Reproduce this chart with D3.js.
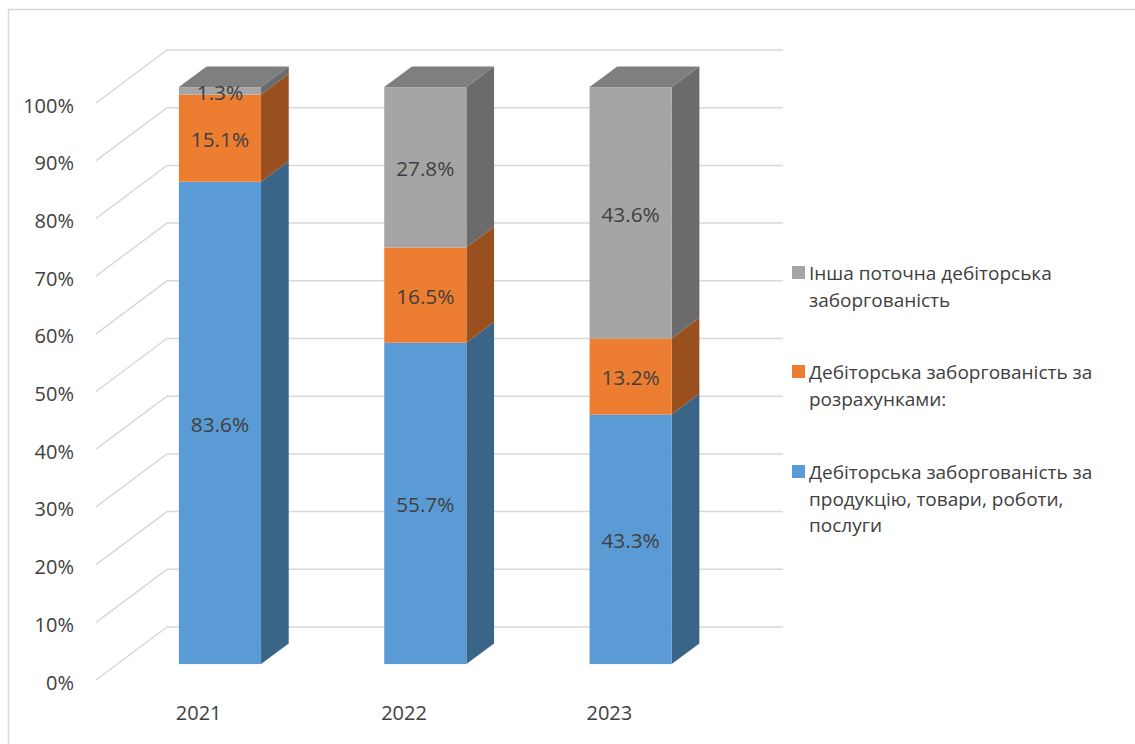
<!DOCTYPE html>
<html>
<head>
<meta charset="utf-8">
<script src="https://cdn.jsdelivr.net/npm/d3@7"></script>
<style>
  html, body { margin: 0; padding: 0; background: #fff; }
  svg { display: block; font-family: "Open Sans", sans-serif; }
</style>
</head>
<body>
<svg id="chart" width="1135" height="744"></svg>
<script>
// Structure of receivables by year (share of total, %)
const years = ["2021", "2022", "2023"];
const seriesNames = [
  "Дебіторська заборгованість за продукцію, товари, роботи, послуги",
  "Дебіторська заборгованість за розрахунками:",
  "Інша поточна дебіторська заборгованість"
];
const tradeReceivables = [83.6, 55.7, 43.3];
const settlementReceivables = [15.1, 16.5, 13.2];
const otherReceivables = [1.3, 27.8, 43.6];
const yTicks = [0, 0.1, 0.2, 0.3, 0.4, 0.5, 0.6, 0.7, 0.8, 0.9, 1];

const seriesValues = [tradeReceivables, settlementReceivables, otherReceivables];
const fronts = ["#5B9BD5", "#ED7D31", "#A5A5A5"];
const sides = ["#3A6588", "#9A4F1E", "#6B6B6B"];
const tops = ["#4A7DAB", "#BE6427", "#7F7F7F"];

const svg = d3.select("#chart");
const textColor = "#404040";
const gridColor = "#d9d9d9";

// chart frame
svg.append("rect")
  .attr("x", 8.5).attr("y", 9.5).attr("width", 1200).attr("height", 800)
  .attr("fill", "none").attr("stroke", gridColor).attr("stroke-width", 1.5);

// oblique projection: floor x, value v (0..1), depth z (0 front .. 1 back wall)
const depthX = 71, depthY = 53;
const x = d3.scaleBand().domain(years).range([96, 712]).paddingInner(0.6).paddingOuter(0.3);
const y = d3.scaleLinear().domain([0, 1]).range([680, 103]);
const P = (fx, v, z) => [fx + depthX * z, y(v) - depthY * z];
const zFront = 0.30, zBack = 0.69;

// gridlines: diagonal on the side wall + horizontal on the back wall
const grid = svg.append("g").attr("stroke", gridColor).attr("stroke-width", 1.5).attr("fill", "none");
yTicks.forEach(t => {
  const a = P(96, t, 0), b = P(96, t, 1), c = P(712, t, 1);
  grid.append("polyline").attr("points", [a, b, c].map(p => p.join(",")).join(" "));
});

// value axis labels
const fmtPct = d3.format(".0%");
svg.append("g").selectAll("text").data(yTicks).join("text")
  .attr("x", 74).attr("y", d => y(d) + 2)
  .attr("text-anchor", "end").attr("dominant-baseline", "central")
  .attr("font-size", 20).attr("fill", textColor)
  .text(d => fmtPct(d));

// category labels
svg.append("g").selectAll("text").data(years).join("text")
  .attr("x", d => x(d) + x.bandwidth() / 2).attr("y", 712)
  .attr("text-anchor", "middle").attr("dominant-baseline", "central")
  .attr("font-size", 20).attr("fill", textColor)
  .text(d => d);

// bars
const bars = svg.append("g");
const pts = arr => arr.map(p => p.join(",")).join(" ");
years.forEach((yr, i) => {
  const total = d3.sum(seriesValues, s => s[i]);
  let acc = 0;
  const x0 = x(yr), x1 = x(yr) + x.bandwidth();
  const segs = seriesValues.map((s, k) => {
    const v0 = acc / total; acc += s[i]; const v1 = acc / total;
    return { k, v0, v1, val: s[i] };
  });
  segs.forEach(sg => {
    // side face
    bars.append("polygon")
      .attr("points", pts([P(x1, sg.v0, zFront), P(x1, sg.v0, zBack), P(x1, sg.v1, zBack), P(x1, sg.v1, zFront)]))
      .attr("fill", sides[sg.k]);
    // front face
    const a = P(x0, sg.v1, zFront), b = P(x1, sg.v0, zFront);
    bars.append("rect")
      .attr("x", a[0]).attr("y", a[1]).attr("width", b[0] - a[0]).attr("height", b[1] - a[1])
      .attr("fill", fronts[sg.k]);
  });
  // top face
  const top = segs[segs.length - 1];
  bars.append("polygon")
    .attr("points", pts([P(x0, 1, zFront), P(x0, 1, zBack), P(x1, 1, zBack), P(x1, 1, zFront)]))
    .attr("fill", tops[top.k]);
  // data labels
  segs.forEach(sg => {
    const a = P((x0 + x1) / 2, (sg.v0 + sg.v1) / 2, zFront);
    bars.append("text")
      .attr("x", a[0]).attr("y", a[1] + 1)
      .attr("text-anchor", "middle").attr("dominant-baseline", "central")
      .attr("font-size", 20.8).attr("fill", textColor)
      .text(d3.format(".1f")(sg.val) + "%");
  });
});

// legend (top to bottom: last series first)
const legend = svg.append("g");
const legendRows = [
  { k: 2, y: 273 },
  { k: 1, y: 372 },
  { k: 0, y: 472 }
];
const maxW = 292;
legendRows.forEach(r => {
  legend.append("rect")
    .attr("x", 792).attr("y", r.y - 7).attr("width", 13).attr("height", 13)
    .attr("fill", fronts[r.k]);
  const words = seriesNames[r.k].split(" ");
  const t = legend.append("text")
    .attr("font-size", 19).attr("fill", textColor);
  let line = [], lineNo = 0;
  let ts = t.append("tspan").attr("x", 809).attr("y", r.y).attr("dominant-baseline", "central");
  words.forEach(w => {
    line.push(w);
    ts.text(line.join(" "));
    if (ts.node().getComputedTextLength() > maxW && line.length > 1) {
      line.pop();
      ts.text(line.join(" "));
      line = [w];
      lineNo++;
      ts = t.append("tspan").attr("x", 809).attr("y", r.y + lineNo * 26.5)
        .attr("dominant-baseline", "central").text(w);
    }
  });
});
</script>
</body>
</html>
